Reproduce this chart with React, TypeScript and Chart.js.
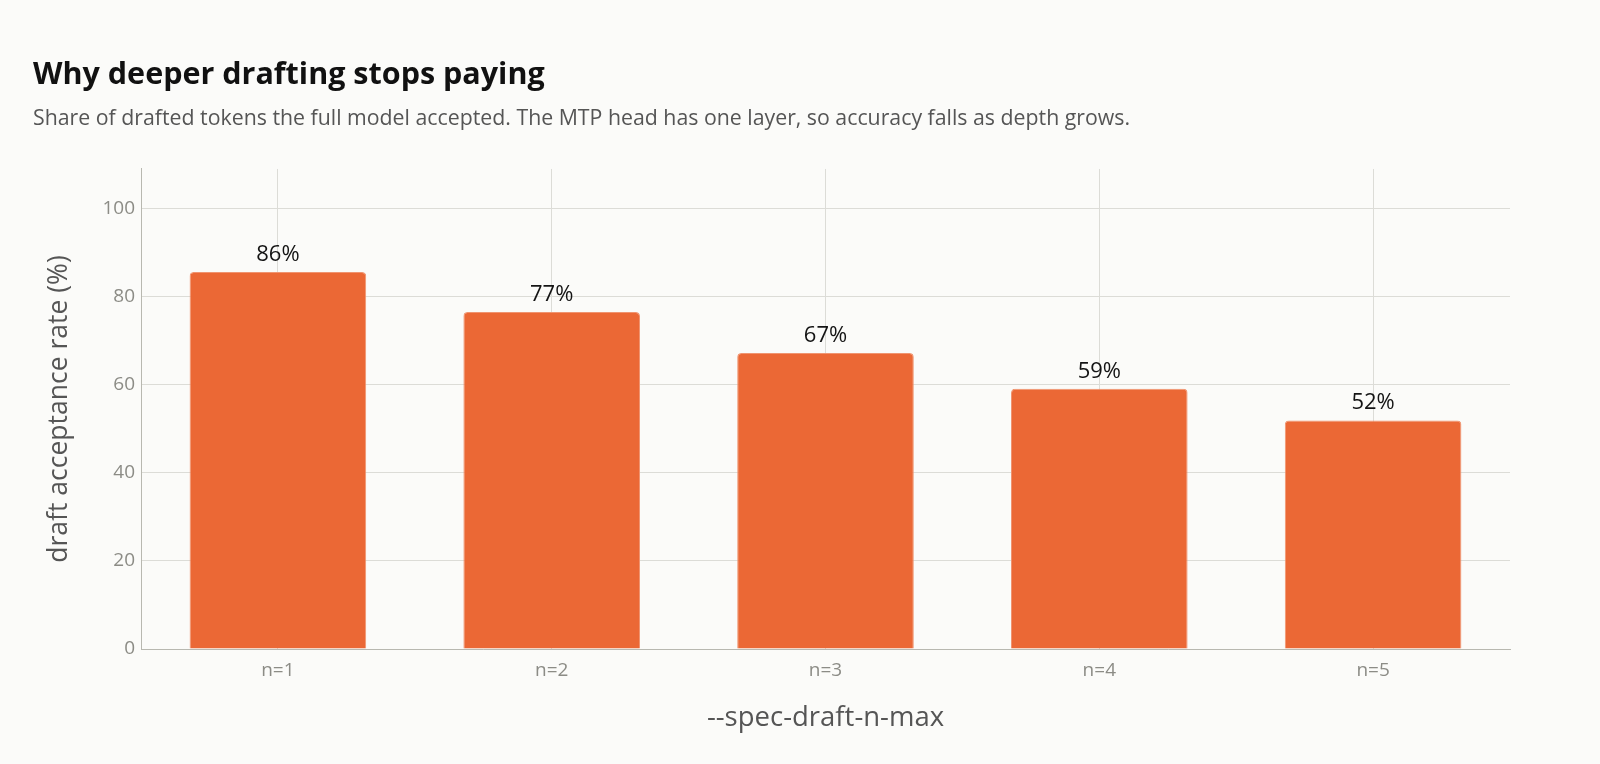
import React, { useEffect, useRef } from 'react'
import { Chart, registerables } from 'chart.js'

Chart.register(...registerables)

const categories = ['n=1', 'n=2', 'n=3', 'n=4', 'n=5']
const acceptance = [85.6, 76.5, 67.2, 59.1, 51.9]
const valueLabels = ['86%', '77%', '67%', '59%', '52%']

const FONT = '"Open Sans", "Noto Sans", sans-serif'

const barLabels = {
	id: 'barLabels',
	afterDatasetsDraw(chart: any) {
		const ctx = chart.ctx
		const meta = chart.getDatasetMeta(0)
		ctx.save()
		ctx.font = `22px ${FONT}`
		ctx.fillStyle = '#141414'
		ctx.textAlign = 'center'
		ctx.textBaseline = 'alphabetic'
		meta.data.forEach((bar: any, i: number) => {
			ctx.fillText(valueLabels[i], bar.x, bar.y - 11)
		})
		ctx.restore()
	},
}

const App: React.FC = () => {
	const chartRef = useRef<HTMLCanvasElement>(null)

	useEffect(() => {
		if (!chartRef.current) return
		const context = chartRef.current.getContext('2d')
		if (!context) return

		const chart = new Chart(context, {
			type: 'bar',
			data: {
				labels: categories,
				datasets: [
					{
						data: acceptance,
						backgroundColor: '#EB6835',
						borderColor: '#F09470',
						borderWidth: 1,
						borderRadius: { topLeft: 4, topRight: 4 },
						borderSkipped: 'bottom',
						categoryPercentage: 1,
						barPercentage: 0.645,
					},
				],
			},
			options: {
				animation: false,
				responsive: true,
				maintainAspectRatio: false,
				layout: { padding: { left: 33, right: 90, top: 0, bottom: 0 } },
				plugins: {
					legend: { display: false },
					tooltip: { enabled: false },
					title: {
						display: true,
						text: 'Why deeper drafting stops paying',
						align: 'start',
						color: '#111111',
						font: { family: FONT, size: 30.5, weight: 'bold' },
						padding: { top: 57.5, bottom: 0 },
					},
					subtitle: {
						display: true,
						text: 'Share of drafted tokens the full model accepted. The MTP head has one layer, so accuracy falls as depth grows.',
						align: 'start',
						color: '#555555',
						font: { family: FONT, size: 21.3 },
						padding: { top: 12, bottom: 37.3 },
					},
				},
				scales: {
					x: {
						offset: true,
						grid: { offset: false, color: '#DCDCD7', drawTicks: false },
						border: { color: '#B8B8B0', width: 1 },
						ticks: { color: '#8C8C86', font: { family: FONT, size: 19 }, padding: 10 },
						title: {
							display: true,
							text: '--spec-draft-n-max',
							color: '#555555',
							font: { family: FONT, size: 27.5 },
							padding: { top: 0, bottom: 29.5 },
						},
						afterFit: (scale: any) => {
							scale.height = 115
						},
					},
					y: {
						min: 0,
						max: 109,
						grid: { color: '#DCDCD7', drawTicks: false },
						border: { color: '#B8B8B0', width: 1 },
						ticks: {
							stepSize: 20,
							color: '#8C8C86',
							font: { family: FONT, size: 19 },
							padding: 6,
						},
						afterBuildTicks: (scale: any) => {
							scale.ticks = scale.ticks.filter((t: any) => t.value % 20 === 0)
						},
						title: {
							display: true,
							text: 'draft acceptance rate (%)',
							color: '#555555',
							font: { family: FONT, size: 26.5 },
							padding: { top: 10.1, bottom: 0 },
						},
						afterFit: (scale: any) => {
							scale.width = 108
						},
					},
				},
			},
			plugins: [barLabels],
		})

		return () => {
			chart.destroy()
		}
	}, [])

	return (
		<div
			style={{
				position: 'fixed',
				left: 0,
				top: 0,
				width: 1600,
				height: 764,
				background: '#FBFBF9',
			}}
		>
			<canvas ref={chartRef} />
		</div>
	)
}

export default App
